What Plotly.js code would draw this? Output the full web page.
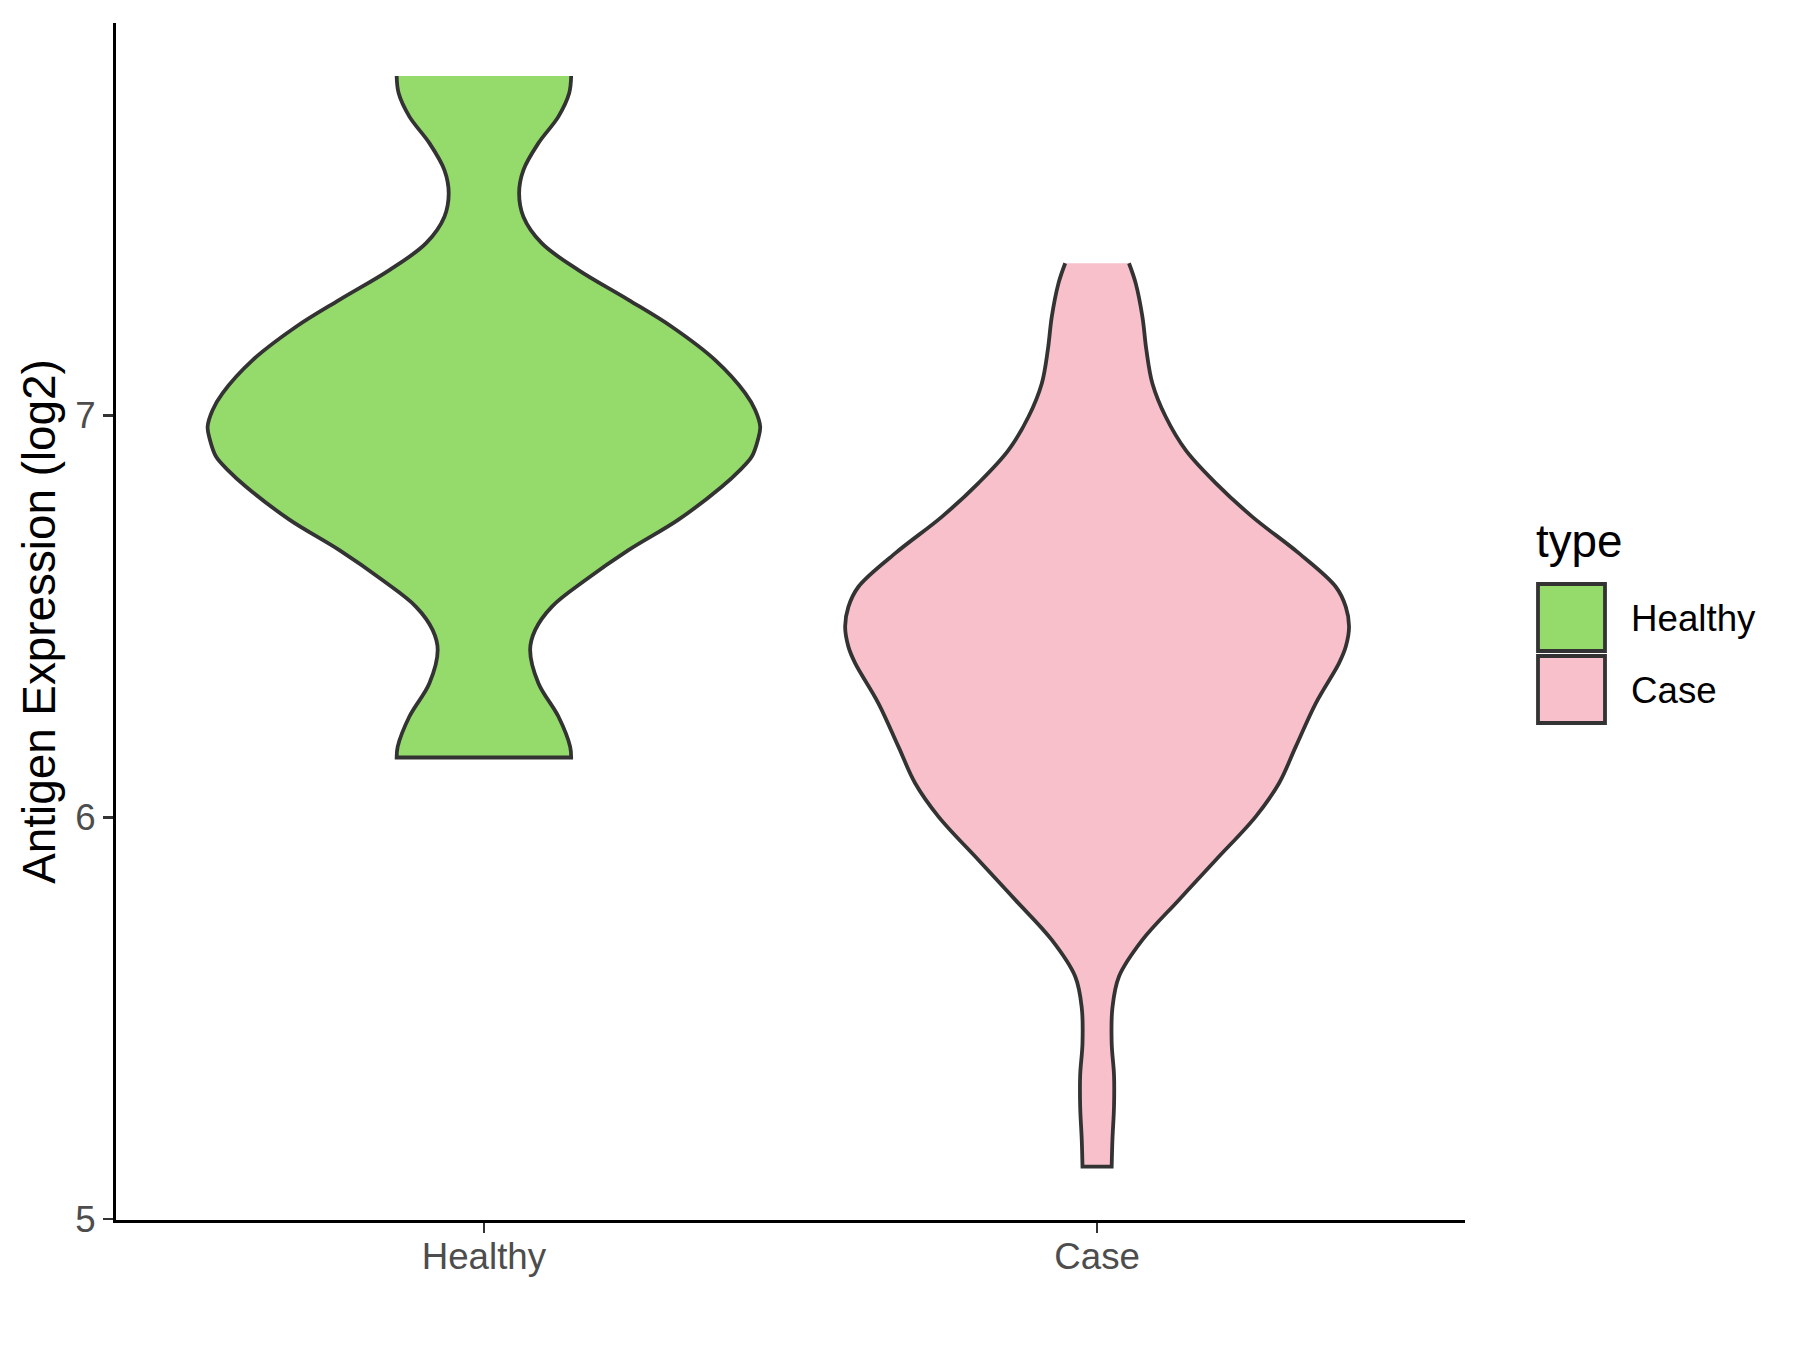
<!DOCTYPE html>
<html>
<head>
<meta charset="utf-8">
<script src="https://cdn.plot.ly/plotly-3.0.1.min.js"></script>
<style>
  html, body { margin: 0; padding: 0; background: #ffffff; }
  #chart { width: 1800px; height: 1350px; }
</style>
</head>
<body>
<div id="chart"></div>
<script>
// ---- data ----
const categories = ['Healthy', 'Case'];
const yTickValues = [5, 6, 7];

// Healthy violin outline: expression value (top to bottom) and density half-width (x units)
const healthyValue = [7.845, 7.802, 7.744, 7.678, 7.611, 7.553, 7.495, 7.429, 7.362, 7.288,
                      7.221, 7.138, 7.056, 7.014, 6.972, 6.939, 6.898, 6.865, 6.823, 6.741,
                      6.665, 6.590, 6.524, 6.466, 6.417, 6.334, 6.251, 6.176, 6.149];
const healthyHalfWidth = [0.1423, 0.1390, 0.1215, 0.0889, 0.0644, 0.0574, 0.0644, 0.0943, 0.1542, 0.2357,
                          0.3064, 0.3772, 0.4261, 0.4424, 0.4506, 0.4467, 0.4369, 0.4180, 0.3879, 0.3173,
                          0.2357, 0.1651, 0.1106, 0.0835, 0.0754, 0.0889, 0.1215, 0.1406, 0.1423];

// Case violin outline
const caseValue = [7.379, 7.329, 7.246, 7.163, 7.080, 6.997, 6.914, 6.832, 6.748, 6.657,
                   6.574, 6.524, 6.475, 6.425, 6.384, 6.284, 6.176, 6.085, 6.002, 5.894,
                   5.794, 5.695, 5.604, 5.526, 5.438, 5.359, 5.280, 5.197, 5.131];
const caseHalfWidth = [0.0520, 0.0630, 0.0739, 0.0804, 0.0902, 0.1119, 0.1445, 0.1935, 0.2533, 0.3294,
                       0.3892, 0.4056, 0.4109, 0.4056, 0.3946, 0.3566, 0.3240, 0.2967, 0.2587, 0.1935,
                       0.1330, 0.0739, 0.0357, 0.0250, 0.0238, 0.0276, 0.0276, 0.0250, 0.0238];

// ---- styles ----
const fillColors = ['#94DB6B', '#F8C0CB'];
const outlineColor = '#333333';
const fontFamily = 'Liberation Sans, Arial, Helvetica, sans-serif';

// page geometry (pixels)
const W = 1800, H = 1350;
const M = { l: 116, r: 335, t: 23, b: 130 };
const plotW = W - M.l - M.r, plotH = H - M.t - M.b;
const px2paperX = px => (px - M.l) / plotW;
const px2paperY = py => (H - M.b - py) / plotH;

function violinTrace(pos, values, half, color) {
  const x = [], y = [];
  // left side, top to bottom (corners doubled to keep flat ends straight)
  x.push(pos - half[0]); y.push(values[0]);
  for (let i = 0; i < values.length; i++) { x.push(pos - half[i]); y.push(values[i]); }
  const n = values.length - 1;
  x.push(pos - half[n]); y.push(values[n]);
  x.push(pos + half[n]); y.push(values[n]);
  // right side, bottom to top
  for (let i = n; i >= 0; i--) { x.push(pos + half[i]); y.push(values[i]); }
  x.push(pos + half[0]); y.push(values[0]);
  return {
    type: 'scatter', mode: 'lines', x: x, y: y,
    fill: 'toself', fillcolor: color,
    line: { color: outlineColor, width: 3.8, shape: 'spline', smoothing: 1, simplify: false },
    hoverinfo: 'skip', showlegend: false
  };
}

const traces = [
  violinTrace(1, healthyValue, healthyHalfWidth, fillColors[0]),
  violinTrace(2, caseValue, caseHalfWidth, fillColors[1])
];

// manual legend (ggplot style keys)
const keyLeft = 1538, keyRight = 1605, keyTops = [584, 656], keySize = 67;
const shapes = [], annotations = [];
categories.forEach((c, i) => {
  shapes.push({
    type: 'rect', xref: 'paper', yref: 'paper',
    x0: px2paperX(keyLeft), x1: px2paperX(keyRight),
    y0: px2paperY(keyTops[i] + keySize), y1: px2paperY(keyTops[i]),
    fillcolor: fillColors[i], line: { color: outlineColor, width: 3.8 }
  });
  annotations.push({
    xref: 'paper', yref: 'paper', x: px2paperX(1629), y: px2paperY(keyTops[i] + keySize / 2 + 1),
    xanchor: 'left', yanchor: 'middle', showarrow: false, text: c,
    font: { family: fontFamily, size: 36.7, color: '#000000' }
  });
});
annotations.push({
  xref: 'paper', yref: 'paper', x: px2paperX(1534), y: px2paperY(541),
  xanchor: 'left', yanchor: 'middle', showarrow: false, text: 'type',
  font: { family: fontFamily, size: 45.8, color: '#000000' }
});

const layout = {
  width: W, height: H,
  margin: { l: M.l, r: M.r, t: M.t, b: M.b, pad: 0 },
  paper_bgcolor: '#ffffff', plot_bgcolor: '#ffffff',
  font: { family: fontFamily },
  showlegend: false,
  xaxis: {
    range: [0.4, 2.6], tickmode: 'array', tickvals: [1, 2], ticktext: categories,
    showline: true, linecolor: '#000000', linewidth: 3,
    ticks: 'outside', ticklen: 10, tickwidth: 2.5, tickcolor: '#333333',
    ticklabelstandoff: -8,
    tickfont: { family: fontFamily, size: 36.7, color: '#4D4D4D' },
    showgrid: false, zeroline: false, fixedrange: true
  },
  yaxis: {
    range: [4.998, 7.977], tickmode: 'array', tickvals: yTickValues,
    showline: true, linecolor: '#000000', linewidth: 3,
    ticks: 'outside', ticklen: 10, tickwidth: 2.5, tickcolor: '#333333',
    tickfont: { family: fontFamily, size: 36.7, color: '#4D4D4D' },
    showgrid: false, zeroline: false, fixedrange: true,
    title: { text: 'Antigen Expression (log2)', font: { family: fontFamily, size: 45.8, color: '#000000' }, standoff: 6 }
  },
  shapes: shapes,
  annotations: annotations
};

Plotly.newPlot('chart', traces, layout, { staticPlot: true, displayModeBar: false });
</script>
</body>
</html>
